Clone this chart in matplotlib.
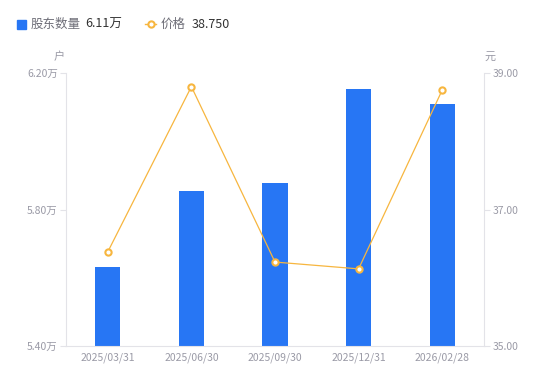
import numpy as np
import matplotlib
matplotlib.use("Agg")
import matplotlib.pyplot as plt

plt.rcParams['font.family'] = ['Noto Sans CJK SC', 'DejaVu Sans']

#----------------data
dates = ['2025/03/31', '2025/06/30', '2025/09/30', '2025/12/31', '2026/02/28']
holders = [5.632, 5.854, 5.878, 6.153, 6.11]   # 万户
price = [36.38, 38.80, 36.23, 36.13, 38.75]   # 元

left_ticks = [5.40, 5.80, 6.20]
right_ticks = [35.00, 37.00, 39.00]

bar_color = '#2776f4'
line_color = '#f7b63f'
axis_color = '#e3e3e8'
label_color = '#9a9aa6'

fig = plt.figure(figsize=(5.5, 3.81), dpi=100)
ax = fig.add_axes([66/550, 35/381, 418/550, 273/381])
ax2 = ax.twinx()

#----------------bars (left axis) and line (right axis)
x = np.arange(len(dates))
ax.bar(x, holders, width=0.3, color=bar_color, zorder=2)
ax.set_ylim(5.40, 6.20)
ax.set_xlim(-0.5, len(dates) - 0.5)
ax.set_yticks(left_ticks)
ax.set_yticklabels(['%.2f万' % v for v in left_ticks])
ax.set_xticks(x)
ax.set_xticklabels(dates)

ax2.plot(x, price, color=line_color, lw=0.9, marker='o', ms=4.5,
         mfc='white', mec=line_color, mew=1.5, zorder=3)
ax2.set_ylim(35, 39)
ax2.set_yticks(right_ticks)
ax2.set_yticklabels(['%.2f' % v for v in right_ticks])

#----------------axis styling
for a in (ax, ax2):
    for s in a.spines.values():
        s.set_visible(False)
    a.tick_params(axis='y', colors=axis_color, labelcolor=label_color,
                  labelsize=7.5, length=4, width=0.8, pad=2)
ax.spines['left'].set_visible(True)
ax.spines['left'].set_color(axis_color)
ax.spines['bottom'].set_visible(True)
ax.spines['bottom'].set_color(axis_color)
ax2.spines['right'].set_visible(True)
ax2.spines['right'].set_color(axis_color)
ax.tick_params(axis='x', length=0, labelcolor=label_color, labelsize=7.5, pad=5)

# unit labels
fig.text(59/550, 1 - 57/381, '户', color=label_color, fontsize=8, ha='center', va='center')
fig.text(490/550, 1 - 57/381, '元', color=label_color, fontsize=8, ha='center', va='center')

#----------------legend row
ly = 1 - 24/381
fig.patches.append(plt.Rectangle((17/550, 1 - 28.5/381), 8.5/550, 8.5/381,
                                 transform=fig.transFigure, color=bar_color))
fig.text(31/550, ly, '股东数量', color='#6e6e78', fontsize=9, va='center')
fig.text(85/550, ly, '6.11万', color='#333333', fontsize=9, va='center')
fig.lines.append(plt.Line2D([145/550, 150.5/550, 156/550], [ly, ly, ly],
                            transform=fig.transFigure, color=line_color, lw=1,
                            marker='o', ms=4.5, mfc='white', mec=line_color,
                            mew=1.5, markevery=[1]))
fig.text(161/550, ly, '价格', color='#6e6e78', fontsize=9, va='center')
fig.text(192/550, ly, '38.750', color='#333333', fontsize=9, va='center')

fig.savefig('out.png', dpi=100)
